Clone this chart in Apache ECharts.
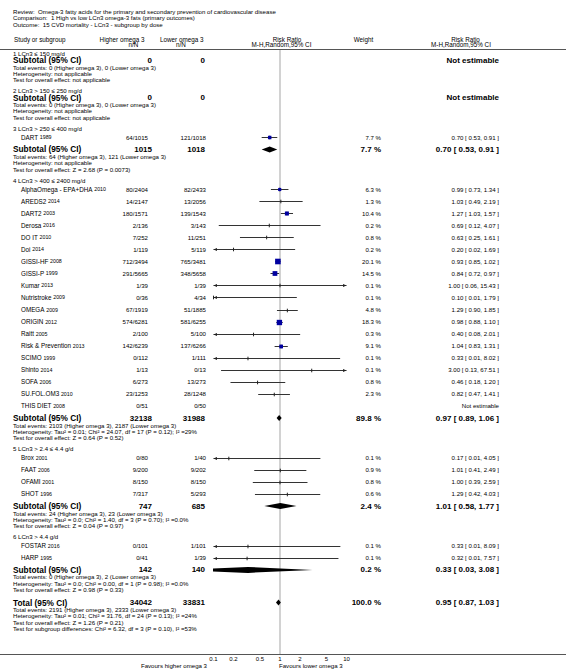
<!DOCTYPE html>
<html>
<head>
<meta charset="utf-8">
<script src="https://cdn.jsdelivr.net/npm/echarts@6.0.0/dist/echarts.min.js"></script>
<style>html,body{margin:0;padding:0;background:#fff;}#chart{width:566px;height:671px;}</style>
</head>
<body>
<div id="chart"></div>
<script>
// ================= DATA =================
const titleLines = [
  'Review:  Omega-3 fatty acids for the primary and secondary prevention of cardiovascular disease',
  'Comparison:  1 High vs low LCn3 omega-3 fats (primary outcomes)',
  'Outcome:  15 CVD mortality - LCn3 - subgroup by dose'
];
const groupLabels = [
  '1 LCn3 ≤ 150 mg/d',
  '2 LCn3 > 150 ≤ 250 mg/d',
  '3 LCn3 > 250 ≤ 400 mg/d',
  '4 LCn3 > 400 ≤ 2400 mg/d',
  '5 LCn3 > 2.4 ≤ 4.4 g/d',
  '6 LCn3 > 4.4 g/d'
];
const studyNames = ['DART','AlphaOmega - EPA+DHA','AREDS2','DART2','Derosa','DO IT','Doi','GISSI-HF','GISSI-P','Kumar','Nutristroke','OMEGA','ORIGIN','Raitt','Risk & Prevention','SCIMO','Shinto','SOFA','SU.FOL.OM3','THIS DIET','Brox','FAAT','OFAMI','SHOT','FOSTAR','HARP'];
const studyYears = ['1989','2010','2014','2003','2016','2010','2014','2008','1999','2013','2009','2009','2012','2005','2013','1999','2014','2006','2010','2008','2001','2006','2001','1996','2016','1995'];
const studyGroup = [2,3,3,3,3,3,3,3,3,3,3,3,3,3,3,3,3,3,3,3,4,4,4,4,5,5];
const eventsHigher = [64,80,14,180,2,7,1,712,291,1,0,67,574,2,142,0,1,6,23,0,0,9,8,7,0,0];
const totalHigher  = [1015,2404,2147,1571,136,252,119,3494,5665,39,36,1919,6281,100,6239,112,13,273,1253,51,80,200,150,317,101,41];
const eventsLower  = [121,82,13,139,3,11,5,765,348,1,4,51,581,5,137,1,0,13,28,0,1,9,8,5,1,1];
const totalLower   = [1018,2433,2056,1543,143,251,119,3481,5658,39,34,1885,6255,100,6266,111,13,273,1248,50,40,202,150,293,101,39];
const studyWeight  = [7.7,6.3,1.3,10.4,0.2,0.8,0.2,20.1,14.5,0.1,0.1,4.8,18.3,0.3,9.1,0.1,0.1,0.8,2.3,null,0.1,0.9,0.8,0.6,0.1,0.1];
const studyRR      = [0.70,0.99,1.03,1.27,0.69,0.63,0.20,0.93,0.84,1.00,0.10,1.29,0.98,0.40,1.04,0.33,3.00,0.46,0.82,null,0.17,1.01,1.00,1.29,0.33,0.32];
const studyLow     = [0.53,0.73,0.49,1.03,0.12,0.25,0.02,0.85,0.72,0.06,0.01,0.90,0.88,0.08,0.83,0.01,0.13,0.18,0.47,null,0.01,0.41,0.39,0.42,0.01,0.01];
const studyHigh    = [0.91,1.34,2.19,1.57,4.07,1.61,1.69,1.02,0.97,15.43,1.79,1.85,1.10,2.01,1.31,8.02,67.51,1.20,1.41,null,4.05,2.49,2.59,4.03,8.09,7.57];

const subtotalHigherN = [0,0,1015,32138,747,142];
const subtotalLowerN  = [0,0,1018,31988,685,140];
const subtotalWeight  = [null,null,7.7,89.8,2.4,0.2];
const subtotalRR      = [null,null,0.70,0.97,1.01,0.33];
const subtotalLow     = [null,null,0.53,0.89,0.58,0.03];
const subtotalHigh    = [null,null,0.91,1.06,1.77,3.08];
const subtotalEvents = [
  'Total events: 0 (Higher omega 3), 0 (Lower omega 3)',
  'Total events: 0 (Higher omega 3), 0 (Lower omega 3)',
  'Total events: 64 (Higher omega 3), 121 (Lower omega 3)',
  'Total events: 2103 (Higher omega 3), 2187 (Lower omega 3)',
  'Total events: 24 (Higher omega 3), 23 (Lower omega 3)',
  'Total events: 0 (Higher omega 3), 2 (Lower omega 3)'
];
const subtotalHeterogeneity = [
  'Heterogeneity: not applicable',
  'Heterogeneity: not applicable',
  'Heterogeneity: not applicable',
  'Heterogeneity: Tau² = 0.01; Chi² = 24.07, df = 17 (P = 0.12); I² =29%',
  'Heterogeneity: Tau² = 0.0; Chi² = 1.40, df = 3 (P = 0.70); I² =0.0%',
  'Heterogeneity: Tau² = 0.0; Chi² = 0.00, df = 1 (P = 0.98); I² =0.0%'
];
const subtotalOverall = [
  'Test for overall effect: not applicable',
  'Test for overall effect: not applicable',
  'Test for overall effect: Z = 2.68 (P = 0.0073)',
  'Test for overall effect: Z = 0.64 (P = 0.52)',
  'Test for overall effect: Z = 0.04 (P = 0.97)',
  'Test for overall effect: Z = 0.98 (P = 0.33)'
];
const overallN = [34042, 33831];
const overallWeight = 100.0;
const overallRR = 0.95;
const overallCI = [0.87, 1.03];
const overallNotes = [
  'Total events: 2191 (Higher omega 3), 2333 (Lower omega 3)',
  'Heterogeneity: Tau² = 0.01; Chi² = 31.76, df = 24 (P = 0.13); I² =24%',
  'Test for overall effect: Z = 1.26 (P = 0.21)',
  'Test for subgroup differences: Chi² = 6.32, df = 3 (P = 0.10), I² =53%'
];
const xTicks = [0.1, 0.2, 0.5, 1, 2, 5, 10];
const xTickLabels = ['0.1', '0.2', '0.5', '1', '2', '5', '10'];
const favoursLeft = 'Favours higher omega 3';
const favoursRight = 'Favours lower omega 3';

// ================= LAYOUT =================
const FAM = '"Liberation Sans", Arial, Helvetica, sans-serif';
const F = {
  title: '6.1px ' + FAM, head: '6.3px ' + FAM, small: '6.1px ' + FAM, name: '6.3px ' + FAM,
  year: '5.3px ' + FAM, num: '6.1px ' + FAM, bold: 'bold 8.3px ' + FAM, boldNum: 'bold 8px ' + FAM,
  tick: '6px ' + FAM
};
const COL = { left: 13, study: 21, high: 148, low: 206, highB: 152, lowB: 205, weight: 381, ci: 499 };
const AXIS_MIN = 0.1, AXIS_MAX = 10;
const HEAD_RULE = 49.5, AXIS_RULE = 654.5;
const GAP = {
  'group>subtotal': 7, 'group>study': 9, 'study>study': 12.05, 'study>subtotal': 12.2,
  'subtotal>note': 7, 'total>note': 7, 'note>note': 6.3, 'note>group': 11, 'note>total': 13
};
const rows = [];
(function buildRows() {
  let y = 53, prev = null;
  const add = (kind, o) => { if (prev) y += GAP[prev + '>' + kind]; o.kind = kind; o.y = y; rows.push(o); prev = kind; };
  groupLabels.forEach((g, gi) => {
    add('group', { text: g });
    studyGroup.forEach((sg, si) => { if (sg === gi) add('study', { si }); });
    add('subtotal', { gi });
    [subtotalEvents[gi], subtotalHeterogeneity[gi], subtotalOverall[gi]].forEach(t => add('note', { text: t }));
  });
  add('total', {});
  overallNotes.forEach(t => add('note', { text: t }));
})();

const fmtW = w => w.toFixed(1) + ' %';
const fmtCI = (r, l, h) => r.toFixed(2) + ' [ ' + l.toFixed(2) + ', ' + h.toFixed(2) + ' ]';

function T(x, y, text, font, align, extra) {
  return Object.assign({
    type: 'text',
    style: { x: x, y: y, text: text, font: font, fill: '#000', align: align || 'left', textAlign: align || 'left',
      verticalAlign: 'middle', textVerticalAlign: 'middle' }
  }, extra || {});
}

// ================= RENDERERS =================
function renderFrame(params, api) {
  const ch = [];
  const W = api.getWidth();
  const x1 = api.coord([1, 0])[0];
  const yHead = api.coord([1, HEAD_RULE])[1];
  const yAxis = api.coord([1, AXIS_RULE])[1];
  ch.push({ type: 'line', shape: { x1: x1, y1: yHead, x2: x1, y2: yAxis }, style: { stroke: '#d2d2d2', lineWidth: 2 } });
  ch.push({ type: 'line', shape: { x1: 0, y1: yHead, x2: W, y2: yHead }, style: { stroke: '#555', lineWidth: 1 } });
  ch.push({ type: 'line', shape: { x1: 0, y1: yAxis, x2: W, y2: yAxis }, style: { stroke: '#555', lineWidth: 1 } });
  xTicks.forEach((t, k) => {
    const xt = api.coord([t, AXIS_RULE])[0];
    ch.push(T(xt, yAxis + 4, xTickLabels[k], F.tick, 'center'));
  });
  ch.push(T(207, yAxis + 10.5, favoursLeft, F.small, 'right'));
  ch.push(T(279, yAxis + 10.5, favoursRight, F.small, 'left'));
  titleLines.forEach((t, k) => ch.push(T(13, 11.7 + k * 6.2, t, F.title, 'left')));
  ch.push(T(14, 39, 'Study or subgroup', F.head));
  ch.push(T(122, 39, 'Higher omega 3', F.head, 'center'));
  ch.push(T(133.5, 44.5, 'n/N', F.head, 'center'));
  ch.push(T(181.7, 39, 'Lower omega 3', F.head, 'center'));
  ch.push(T(181, 44.5, 'n/N', F.head, 'center'));
  ch.push(T(287, 39, 'Risk Ratio', F.head, 'center'));
  ch.push(T(281.5, 44.5, 'M-H,Random,95% CI', F.head, 'center'));
  ch.push(T(363.5, 39, 'Weight', F.head, 'center'));
  ch.push(T(465.5, 39, 'Risk Ratio', F.head, 'center'));
  ch.push(T(461, 44.5, 'M-H,Random,95% CI', F.head, 'center'));
  return { type: 'group', children: ch };
}

function renderTable(params, api) {
  const r = rows[params.dataIndex];
  const y = api.coord([1, r.y])[1];
  const ch = [];
  if (r.kind === 'group' || r.kind === 'note') {
    ch.push(T(COL.left, y, r.text, F.small));
  } else if (r.kind === 'study') {
    const i = r.si;
    ch.push({ type: 'text', style: {
      x: COL.study, y: y, text: '{n|' + studyNames[i] + '} {y|' + studyYears[i] + '}',
      rich: { n: { font: F.name, fill: '#000' }, y: { font: F.year, fill: '#000' } },
      fill: '#000', font: F.name, align: 'left', textAlign: 'left', verticalAlign: 'middle', textVerticalAlign: 'middle' } });
    ch.push(T(COL.high, y, eventsHigher[i] + '/' + totalHigher[i], F.num, 'right'));
    ch.push(T(COL.low, y, eventsLower[i] + '/' + totalLower[i], F.num, 'right'));
    if (studyRR[i] != null) {
      ch.push(T(COL.weight, y, fmtW(studyWeight[i]), F.num, 'right'));
      ch.push(T(COL.ci, y, fmtCI(studyRR[i], studyLow[i], studyHigh[i]), F.num, 'right'));
    } else {
      ch.push(T(COL.ci, y, 'Not estimable', F.num, 'right'));
    }
  } else if (r.kind === 'subtotal' || r.kind === 'total') {
    const isT = r.kind === 'total';
    const gi = r.gi;
    const nh = isT ? overallN[0] : subtotalHigherN[gi];
    const nl = isT ? overallN[1] : subtotalLowerN[gi];
    const w = isT ? overallWeight : subtotalWeight[gi];
    const rr = isT ? overallRR : subtotalRR[gi];
    const lo = isT ? overallCI[0] : subtotalLow[gi];
    const hi = isT ? overallCI[1] : subtotalHigh[gi];
    ch.push(T(COL.left, y, isT ? 'Total (95% CI)' : 'Subtotal (95% CI)', F.bold));
    ch.push(T(COL.highB, y, String(nh), F.boldNum, 'right'));
    ch.push(T(COL.lowB, y, String(nl), F.boldNum, 'right'));
    if (rr != null) {
      ch.push(T(COL.weight, y, fmtW(w), F.boldNum, 'right'));
      ch.push(T(COL.ci, y, fmtCI(rr, lo, hi), F.boldNum, 'right'));
    } else {
      ch.push(T(COL.ci, y, 'Not estimable', F.boldNum, 'right'));
    }
  }
  return { type: 'group', children: ch };
}

function renderStudy(params, api) {
  const i = api.value(2);
  const yv = api.value(1);
  const y0 = Math.round(api.coord([1, yv])[1]) + 0.5;
  const X = v => api.coord([v, yv])[0];
  const xmin = X(AXIS_MIN), xmax = X(AXIS_MAX);
  const lo = studyLow[i], hi = studyHigh[i];
  const xl = lo < AXIS_MIN ? xmin : X(lo);
  const xr = hi > AXIS_MAX ? xmax : X(hi);
  const ch = [];
  ch.push({ type: 'line', shape: { x1: xl, y1: y0, x2: xr, y2: y0 }, style: { stroke: '#333', lineWidth: 1 } });
  if (lo < AXIS_MIN) ch.push({ type: 'polygon', shape: { points: [[xmin, y0], [xmin + 3.5, y0 - 1.6], [xmin + 3.5, y0 + 1.6]] }, style: { fill: '#222' } });
  if (hi > AXIS_MAX) ch.push({ type: 'polygon', shape: { points: [[xmax, y0], [xmax - 3.5, y0 - 1.6], [xmax - 3.5, y0 + 1.6]] }, style: { fill: '#222' } });
  const xc = X(api.value(0));
  ch.push({ type: 'line', shape: { x1: xc, y1: y0 - 1.8, x2: xc, y2: y0 + 1.8 }, style: { stroke: '#222', lineWidth: 1 } });
  const s = 1.25 * Math.sqrt(studyWeight[i]);
  if (s > 3) ch.push({ type: 'rect', shape: { x: xc - s / 2, y: y0 - s / 2, width: s, height: s }, style: { fill: '#0000a0' } });
  return { type: 'group', children: ch };
}

function renderDiamond(params, api) {
  const yv = api.value(3);
  const y0 = api.coord([1, yv])[1];
  const X = v => api.coord([v, yv])[0];
  const h = 3;
  return { type: 'polygon', shape: { points: [[X(api.value(1)), y0], [X(api.value(0)), y0 - h], [X(api.value(2)), y0], [X(api.value(0)), y0 + h]] },
    style: { fill: '#000' } };
}

// ================= SERIES DATA =================
const studyData = [];
const diamondData = [];
rows.forEach(r => {
  if (r.kind === 'study' && studyRR[r.si] != null) studyData.push([studyRR[r.si], r.y, r.si]);
  if (r.kind === 'subtotal' && subtotalRR[r.gi] != null) diamondData.push([subtotalRR[r.gi], subtotalLow[r.gi], subtotalHigh[r.gi], r.y]);
  if (r.kind === 'total') diamondData.push([overallRR, overallCI[0], overallCI[1], r.y]);
});

const chart = echarts.init(document.getElementById('chart'), null, { renderer: 'svg', width: 566, height: 671 });
chart.setOption({
  animation: false,
  backgroundColor: '#fff',
  grid: { left: 213.5, width: 133, top: 0, height: 671 },
  xAxis: { type: 'log', logBase: 10, min: AXIS_MIN, max: AXIS_MAX, show: false },
  yAxis: { type: 'value', min: 0, max: 671, inverse: true, show: false },
  series: [
    { type: 'custom', name: 'frame', clip: false, z: 1, data: [[1, 0]], encode: { x: 0, y: 1 }, renderItem: renderFrame, silent: true },
    { type: 'custom', name: 'table', clip: false, z: 2, data: rows.map(r => [1, r.y]), encode: { x: 0, y: 1 }, renderItem: renderTable, silent: true },
    { type: 'custom', name: 'studies', clip: false, z: 3, data: studyData, encode: { x: 0, y: 1 }, renderItem: renderStudy, silent: true },
    { type: 'custom', name: 'diamonds', clip: true, z: 3, data: diamondData, encode: { x: 0, y: 3 }, renderItem: renderDiamond, silent: true }
  ]
});
</script>
</body>
</html>
